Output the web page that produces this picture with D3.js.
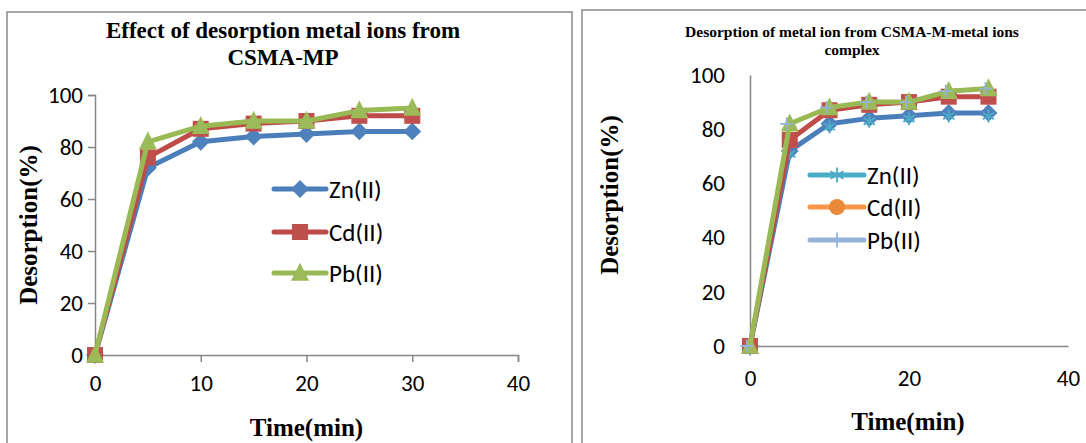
<!DOCTYPE html>
<html><head><meta charset="utf-8">
<script src="https://cdn.jsdelivr.net/npm/d3@7"></script>
<style>body{margin:0;background:#fff}svg{display:block}</style>
</head><body>
<svg id="c" width="1086" height="443"></svg>
<script>
const times = [0, 5, 10, 15, 20, 25, 30];
const zn = [0, 72, 82, 84, 85, 86, 86];
const cd = [0, 76, 87, 89, 90, 92, 92];
const pb = [0, 82, 88, 90, 90, 94, 95];
const seriesNames = ["Zn(II)", "Cd(II)", "Pb(II)"];
const xTicksLeft = [0, 10, 20, 30, 40];
const xTicksRight = [0, 20, 40];
const yTicks = [0, 20, 40, 60, 80, 100];
const titleLeft = ["Effect of desorption metal ions from", "CSMA-MP"];
const titleRight = ["Desorption of metal ion from CSMA-M-metal ions", "complex"];
const xLabel = "Time(min)";
const yLabel = "Desorption(%)";

const svg = d3.select("#c");
const lineColors = ["#4A7EBB", "#BE4B48", "#98B954"];
const markerFill = ["#4F81BD", "#C0504D", "#9BBB59"];
const sans = "Calibri, Carlito, 'Liberation Sans', Arial, sans-serif";
const serif = "'Liberation Serif', 'Times New Roman', serif";
const values = [zn, cd, pb];

function marker(g, type, x, y, fill, size) {
  if (type === "diamond") {
    g.append("path").attr("d", d3.symbol(d3.symbolDiamond2, size * size * 0.9)()).attr("transform", `translate(${x},${y})`).attr("fill", fill);
  } else if (type === "square") {
    g.append("rect").attr("x", x - size / 2).attr("y", y - size / 2).attr("width", size).attr("height", size).attr("fill", fill);
  } else if (type === "triangle") {
    const h = size * 0.95;
    g.append("path").attr("d", `M${x},${y - h * 0.6}L${x + size / 2},${y + h * 0.45}L${x - size / 2},${y + h * 0.45}Z`).attr("fill", fill);
  } else if (type === "circle") {
    g.append("circle").attr("cx", x).attr("cy", y).attr("r", size / 2).attr("fill", fill);
  } else if (type === "asterisk") {
    const r = size / 2;
    const p = [];
    for (let k = 0; k < 3; k++) {
      const a = Math.PI / 2 + k * Math.PI / 3;
      p.push(`M${x - r * Math.cos(a)},${y - r * Math.sin(a)}L${x + r * Math.cos(a)},${y + r * Math.sin(a)}`);
    }
    g.append("path").attr("d", p.join("")).attr("stroke", fill).attr("stroke-width", 1.8).attr("fill", "none");
  } else if (type === "plus") {
    const r = size / 2;
    g.append("path").attr("d", `M${x - r},${y}L${x + r},${y}M${x},${y - r}L${x},${y + r}`).attr("stroke", fill).attr("stroke-width", 1.8).attr("fill", "none");
  }
}

function drawChart(cfg) {
  const g = svg.append("g");
  g.append("rect").attr("x", cfg.box[0]).attr("y", cfg.box[1]).attr("width", cfg.box[2]).attr("height", cfg.box[3])
    .attr("fill", "none").attr("stroke", "#898989").attr("stroke-width", 1.5);
  const x = d3.scaleLinear().domain([0, 40]).range(cfg.xr);
  const y = d3.scaleLinear().domain([0, 100]).range(cfg.yr);

  const xa = g.append("g").attr("transform", `translate(0,${y(0)})`)
    .call(d3.axisBottom(x).tickValues(cfg.xTicks).tickSize(cfg.ticks ? 7 : 0).tickPadding(cfg.xPad).tickFormat(d3.format("d")));
  const ya = g.append("g").attr("transform", `translate(${x(0)},0)`)
    .call(d3.axisLeft(y).tickValues(yTicks).tickSize(cfg.ticks ? 7 : 0).tickPadding(cfg.yPad).tickFormat(d3.format("d")));
  [xa, ya].forEach(a => {
    a.select(".domain").attr("stroke", "#868686").attr("stroke-width", 1.5);
    a.selectAll(".tick line").attr("stroke", "#868686").attr("stroke-width", 1.5);
    a.selectAll("text").attr("font-family", sans).attr("font-size", cfg.tickFs).attr("fill", "#000");
  });
  xa.selectAll(".tick text").attr("dy", "0.71em");

  cfg.title.forEach((t, i) => {
    g.append("text").attr("x", cfg.titleX).attr("y", cfg.titleY[i]).attr("text-anchor", "middle")
      .attr("font-family", serif).attr("font-weight", "bold").attr("font-size", cfg.titleFs).text(t);
  });
  g.append("text").attr("x", d3.mean(cfg.xr) + cfg.xLabDx).attr("y", cfg.xLabY).attr("text-anchor", "middle")
    .attr("font-family", serif).attr("font-weight", "bold").attr("font-size", 25).text(xLabel);
  g.append("text").attr("transform", `translate(${cfg.yLabX},${cfg.yLabY}) rotate(-90)`).attr("text-anchor", "middle")
    .attr("font-family", serif).attr("font-weight", "bold").attr("font-size", 25).text(yLabel);

  const line = d3.line().x((d, i) => x(times[i])).y(d => y(d));
  values.forEach((vals, s) => {
    g.append("path").datum(vals).attr("d", line).attr("fill", "none").attr("stroke", lineColors[s])
      .attr("stroke-width", 5).attr("stroke-linejoin", "round").attr("stroke-linecap", "round");
    vals.forEach((v, i) => {
      marker(g, cfg.plotMarkers[s], x(times[i]), y(v), markerFill[s], cfg.plotSizes[s]);
      if (cfg.extraMarkers && cfg.extraMarkers[s]) {
        const em = cfg.extraMarkers[s];
        marker(g, em.type, x(times[i]) + em.dx, y(v) + em.dy, em.color, em.size);
      }
    });
  });

  seriesNames.forEach((n, s) => {
    const ly = cfg.legY[s];
    g.append("line").attr("x1", cfg.legX[0]).attr("x2", cfg.legX[1]).attr("y1", ly).attr("y2", ly)
      .attr("stroke", cfg.legLine[s]).attr("stroke-width", 5).attr("stroke-linecap", "round");
    marker(g, cfg.legMarkers[s], d3.mean(cfg.legX), ly, cfg.legFill[s], cfg.legSizes[s]);
    g.append("text").attr("x", cfg.legX[1] + 3).attr("y", ly).attr("dy", "0.35em")
      .attr("font-family", sans).attr("font-size", cfg.legFs).text(n);
  });
}

drawChart({
  box: [7, 12, 565, 450],
  xr: [95, 518], yr: [355, 95],
  xTicks: xTicksLeft, ticks: true, xPad: 13, yPad: 5, tickFs: 23,
  title: titleLeft, titleX: 283, titleY: [38, 65], titleFs: 23,
  xLabY: 436, xLabDx: 0, yLabX: 37, yLabY: 225,
  plotMarkers: ["diamond", "square", "triangle"], plotSizes: [15, 16, 18],
  legX: [274, 326], legY: [189, 232, 273], legFs: 25,
  legLine: lineColors, legMarkers: ["diamond", "square", "triangle"], legFill: markerFill, legSizes: [15, 16, 18]
});

drawChart({
  box: [582, 10, 510, 450],
  xr: [750, 1068], yr: [346, 75],
  xTicks: xTicksRight, ticks: false, xPad: 24, yPad: 25, tickFs: 23,
  title: titleRight, titleX: 852, titleY: [37, 55], titleFs: 15.5,
  xLabY: 430, xLabDx: -1, yLabX: 618, yLabY: 195,
  plotMarkers: ["diamond", "square", "triangle"], plotSizes: [15, 16, 18],
  extraMarkers: [{type: "asterisk", color: "#4BACC6", size: 13, dx: 0, dy: 3}, null, {type: "plus", color: "#95B3D7", size: 13, dx: -3, dy: 0}],
  legX: [810, 864], legY: [175, 207, 240], legFs: 25,
  legLine: ["#4BACC6", "#F79646", "#95B3D7"], legMarkers: ["asterisk", "circle", "plus"], legFill: ["#4BACC6", "#E98A3A", "#95B3D7"], legSizes: [15, 16, 15]
});
</script>
</body></html>
